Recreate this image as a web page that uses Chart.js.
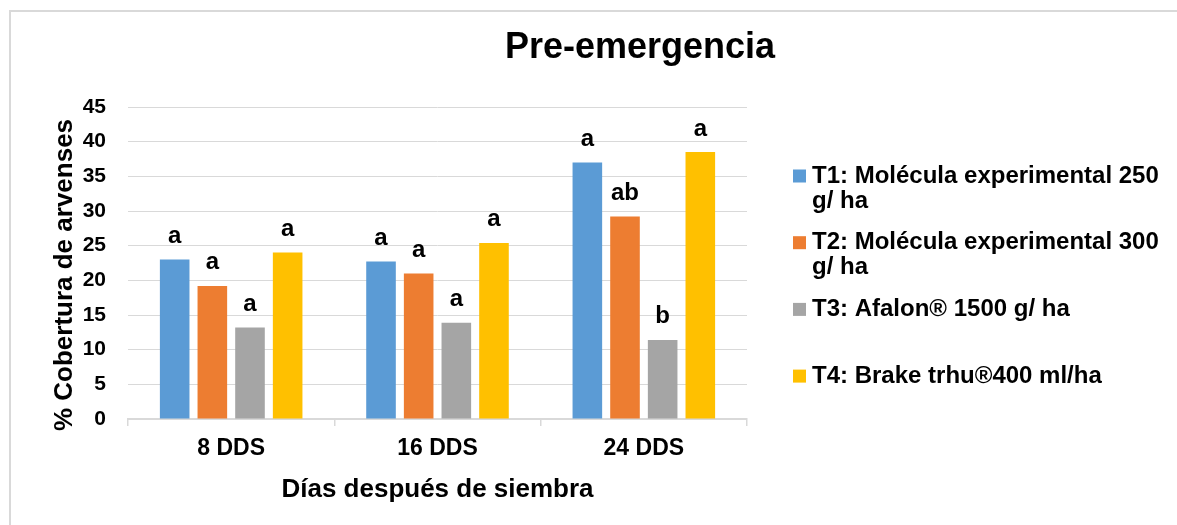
<!DOCTYPE html>
<html><head><meta charset="utf-8">
<script src="https://cdn.jsdelivr.net/npm/chart.js@4.4.1/dist/chart.umd.min.js"></script>
<style>
html,body{margin:0;padding:0;background:#fff;overflow:hidden;width:1177px;height:525px;}
#frame{position:absolute;left:9px;top:10px;width:1168px;height:515px;box-sizing:border-box;border-left:2px solid #d9d9d9;border-top:2px solid #d9d9d9;}
#wrap{position:absolute;left:0;top:0;width:1177px;height:525px;}
</style></head><body>
<div id="frame"></div>
<div id="wrap"><canvas id="c"></canvas></div>
<script>
// ---- data ----
const categories = ['8 DDS', '16 DDS', '24 DDS'];
const seriesNames = [
  'T1: Molécula experimental 250 g/ ha',
  'T2: Molécula experimental 300 g/ ha',
  'T3: Afalon® 1500 g/ ha',
  'T4: Brake trhu®400 ml/ha'
];
const t1Values = [23.0, 22.7, 37.0];
const t2Values = [19.2, 21.0, 29.2];
const t3Values = [13.2, 13.9, 11.4];
const t4Values = [24.0, 25.4, 38.5];
const t1Letters = ['a', 'a', 'a'];
const t2Letters = ['a', 'a', 'ab'];
const t3Letters = ['a', 'a', 'b'];
const t4Letters = ['a', 'a', 'a'];
const chartTitle = 'Pre-emergencia';
const xAxisTitle = 'Días después de siembra';
const yAxisTitle = '% Cobertura de arvenses';
const yMin = 0, yMax = 45, yStep = 5;

// ---- styles ----
const FONT = '"Liberation Sans", Arial, sans-serif';
const colors = ['#5B9BD5', '#ED7D31', '#A5A5A5', '#FFC000'];
const seriesValues = [t1Values, t2Values, t3Values, t4Values];
const seriesLetters = [t1Letters, t2Letters, t3Letters, t4Letters];

const overlay = {
  id: 'overlay',
  afterDraw(chart) {
    const ctx = chart.ctx;
    ctx.save();
    ctx.fillStyle = '#000';
    // chart title
    ctx.font = 'bold 36px ' + FONT;
    ctx.textAlign = 'center';
    ctx.textBaseline = 'alphabetic';
    ctx.fillText(chartTitle, 640, 58);
    // y axis title
    ctx.save();
    ctx.translate(72, 275);
    ctx.rotate(-Math.PI / 2);
    ctx.font = 'bold 26px ' + FONT;
    ctx.fillText(yAxisTitle, 0, 0);
    ctx.restore();
    // significance letters
    ctx.font = 'bold 24px ' + FONT;
    ctx.textAlign = 'center';
    ctx.textBaseline = 'alphabetic';
    chart.data.datasets.forEach((ds, i) => {
      const meta = chart.getDatasetMeta(i);
      meta.data.forEach((bar, j) => {
        ctx.fillText(seriesLetters[i][j], bar.x, bar.y - 16.5);
      });
    });
    // legend
    ctx.font = 'bold 24px ' + FONT;
    ctx.textAlign = 'left';
    ctx.textBaseline = 'middle';
    const maxW = 360;
    chart.data.datasets.forEach((ds, i) => {
      const y0 = 176 + i * 66.7;
      ctx.fillStyle = ds.backgroundColor;
      ctx.fillRect(793, y0 - 6.5, 13, 13);
      ctx.fillStyle = '#000';
      const words = ds.label.split(' ');
      const lines = [];
      let cur = '';
      words.forEach(w => {
        const test = cur ? cur + ' ' + w : w;
        if (ctx.measureText(test).width > maxW && cur) { lines.push(cur); cur = w; }
        else cur = test;
      });
      if (cur) lines.push(cur);
      lines.forEach((ln, k) => ctx.fillText(ln, 812, y0 + k * 25));
    });
    ctx.restore();
  }
};

new Chart(document.getElementById('c'), {
  type: 'bar',
  data: {
    labels: categories,
    datasets: seriesNames.map((name, i) => ({
      label: name,
      data: seriesValues[i],
      backgroundColor: colors[i],
      borderWidth: 0,
      categoryPercentage: 0.73,
      barPercentage: 0.786
    }))
  },
  options: {
    responsive: true,
    maintainAspectRatio: false,
    animation: false,
    layout: { padding: { left: 0, top: 107, right: 430, bottom: 0 } },
    plugins: { legend: { display: false }, title: { display: false }, tooltip: { enabled: false } },
    scales: {
      x: {
        grid: { display: true, drawOnChartArea: false, drawTicks: true, tickLength: 7, color: '#d9d9d9', lineWidth: 1.5, offset: true },
        border: { display: true, color: '#d9d9d9', width: 2 },
        ticks: { color: '#000', padding: 9, font: { family: FONT, size: 23, weight: 'bold' } },
        title: { display: true, text: xAxisTitle, color: '#000', padding: { top: 4, bottom: 20 }, font: { family: FONT, size: 26, weight: 'bold' } },
        afterFit(scale) { scale.height = 106; }
      },
      y: {
        min: yMin, max: yMax,
        ticks: { stepSize: yStep, color: '#000', padding: 22, font: { family: FONT, size: 21, weight: 'bold' } },
        grid: { color: '#d9d9d9', lineWidth: 1, drawTicks: false },
        border: { display: false },
        afterFit(scale) { scale.width = 128; }
      }
    }
  },
  plugins: [overlay]
});
</script>
</body></html>
